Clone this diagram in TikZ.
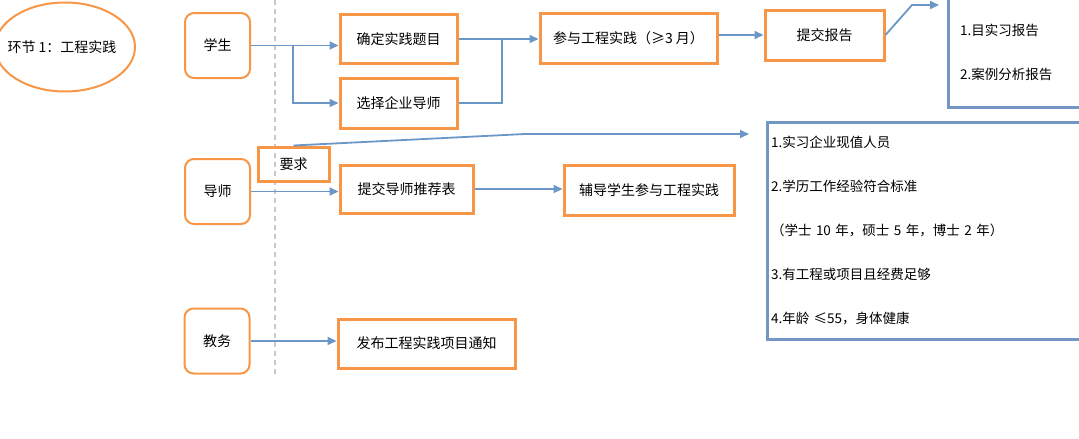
\documentclass[tikz,border=0pt]{standalone}
\usepackage{fontspec}
\setmainfont{Noto Sans CJK SC}
\usetikzlibrary{positioning,calc,shapes.geometric,arrows.meta}
\definecolor{orangeline}{HTML}{F79646}
\definecolor{flowblue}{HTML}{6A96C8}
\definecolor{noteblue}{HTML}{7396C4}
\definecolor{lanegray}{HTML}{C8C8C8}

\begin{document}
\begin{tikzpicture}[
  x=1pt, y=-1pt,
  font=\fontsize{14}{16}\selectfont,
  stage/.style={ellipse, draw=orangeline, line width=2pt,
    minimum width=140pt, minimum height=89pt},
  role/.style={rectangle, rounded corners=9pt, draw=orangeline, line width=2pt,
    minimum width=65pt, minimum height=65pt},
  task/.style={rectangle, draw=orangeline, line width=3pt, minimum height=49pt},
  note/.style={rectangle, draw=noteblue, line width=3pt, align=left,
    font=\fontsize{13.5}{44}\selectfont},
  link/.style={line width=1.8pt, draw=flowblue, -{Triangle[length=9pt,width=8pt]}},
  plain/.style={line width=1.8pt, draw=flowblue},
  lane/.style={line width=1.2pt, draw=lanegray, dash pattern=on 5pt off 4pt},
]
\useasboundingbox (0,0) rectangle (1079,439);

% lane separator
\coordinate (lanetop) at (275,0);
\coordinate (lanebot) at (275,375);
\draw[lane] (lanetop) -- (lanebot);

\node[stage, label={[xshift=-3pt]center:环节 1：工程实践}] (stage1) at (65,47) {};

% roles
\node[role] (xs) at (217.5,45.5)  {学生};
\node[role] (ds) at (217.5,191.5) {导师};
\node[role] (jw) at (217,341)     {教务};

% student row
\node[task, minimum width=117pt] (qd) at (398.5,39)  {确定实践题目};
\node[task, minimum width=117pt, minimum height=50pt] (xz) at (398.5,103) {选择企业导师};
\node[task, minimum width=177pt, minimum height=50pt] (cy) at (628.5,38) {参与工程实践（≥3 月）};
\node[task, minimum width=119pt, minimum height=50pt] (tj) at (824.5,35) {提交报告};
\node[note, text width=128pt, inner xsep=12pt, minimum height=109pt] (rpt) at (1024,52.5)
  {1.目实习报告\\2.案例分析报告};

% tutor row
\node[task, minimum width=71pt, minimum height=34pt] (yq) at (293.5,164) {要求};
\node[task, minimum width=133pt, minimum height=48pt] (tjd) at (406.5,189) {提交导师推荐表};
\node[task, minimum width=170pt, minimum height=50pt] (fd) at (649,190) {辅导学生参与工程实践};
\node[note, text width=325pt, inner xsep=4pt, minimum height=217pt] (req) at (933.5,230.5)
  {1.实习企业现值人员\\2.学历工作经验符合标准\\（学士 10 年，硕士 5 年，博士 2 年）\\3.有工程或项目且经费足够\\4.年龄 ≤55，身体健康};

% office row
\node[task, minimum width=177pt] (fb) at (426.5,343.5) {发布工程实践项目通知};

% connectors
\coordinate (fork) at (293,45.5);
\coordinate (merge) at (502,39);
\coordinate (rbend) at (912,5);
\coordinate (rtip) at (939,5);
\coordinate (ybend) at (525,134);
\coordinate (ytip) at (749,134);

\draw[link] (xs.east) -- (xs.east -| qd.west);
\draw[link] (fork) |- (xz.west);
\draw[link] (qd.east) -- (qd.east -| cy.west);
\draw[plain] (xz.east) -| (merge);
\draw[link] (tj.west -| cy.east) -- (tj.west);
\draw[link] (tj.east) -- (rbend) -- (rtip);

\draw[link] (yq.north) -- (ybend) -- (ytip);
\draw[link] (ds.east) -- (ds.east -| tjd.west);
\draw[link] (tjd.east) -- (tjd.east -| fd.west);

\draw[link] (jw.east) -- (jw.east -| fb.west);
\end{tikzpicture}
\end{document}
